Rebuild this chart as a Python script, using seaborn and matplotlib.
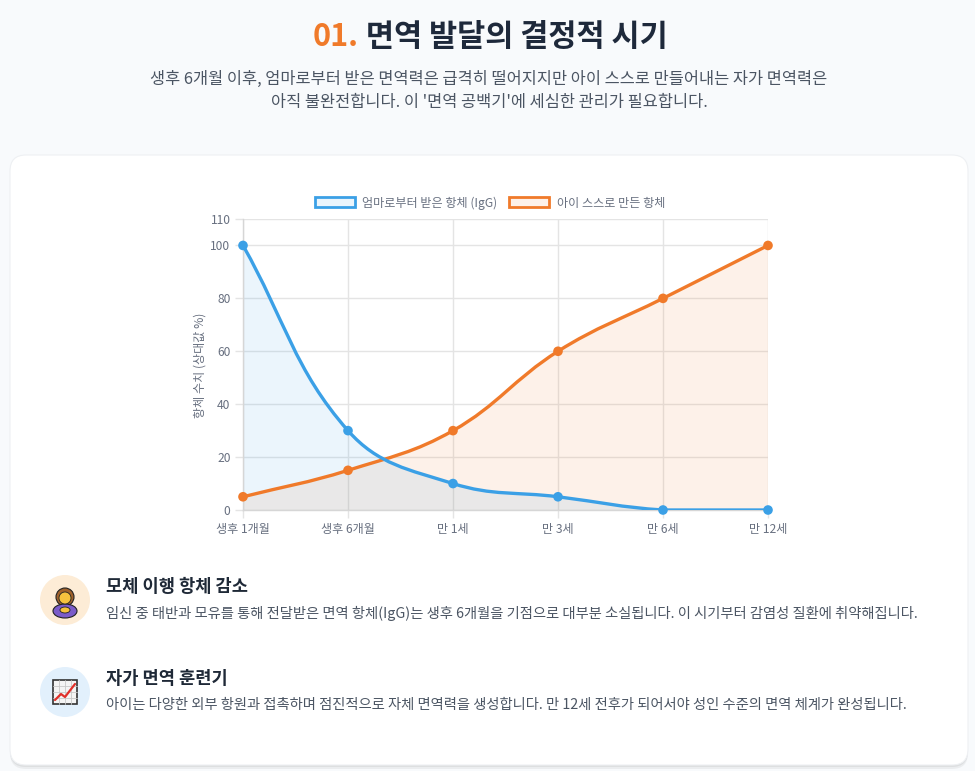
import numpy as np
import pandas as pd
import seaborn as sns
import matplotlib.pyplot as plt
from matplotlib.path import Path
from matplotlib.patches import PathPatch, FancyBboxPatch, Circle, Patch, Rectangle, Ellipse
from matplotlib.transforms import IdentityTransform
from matplotlib.colors import to_rgba

# data
labels = ['생후 1개월', '생후 6개월', '만 1세', '만 3세', '만 6세', '만 12세']
mother = [100, 30, 10, 5, 0, 0]
child = [5, 15, 30, 60, 80, 100]
series_names = ['엄마로부터 받은 항체 (IgG)', '아이 스스로 만든 항체']
y_ticks = [0, 20, 40, 60, 80, 100, 110]

blue = '#3ba0e6'
orange = '#f07a2a'
tick_col = '#687080'
grid_col = '#e4e4e4'

sns.set_theme(style='whitegrid')
plt.rcParams['font.family'] = ['Noto Sans CJK KR', 'DejaVu Sans']

W, H = 975, 771
fig = plt.figure(figsize=(W / 100, H / 100), dpi=100)
fig.patch.set_facecolor('#f8fafc')
px = IdentityTransform()


def fx(x):
    return x / W


def fy(y):
    return 1 - y / H


# card with soft shadow
for off, a in [(4, 0.05), (2, 0.06)]:
    fig.add_artist(FancyBboxPatch((10, H - 765 - off), 958, 610, boxstyle='round,pad=0,rounding_size=16',
                                  transform=px, facecolor='black', alpha=a, edgecolor='none', zorder=0))
fig.add_artist(FancyBboxPatch((10, H - 765), 958, 610, boxstyle='round,pad=0,rounding_size=16',
                              transform=px, facecolor='white', edgecolor='#eef0f3', lw=0.8, zorder=1))

# title
renderer = fig.canvas.get_renderer()
t1 = fig.text(0, fy(37), '01.', color=orange, fontsize=22, weight='bold', va='center', zorder=3)
t2 = fig.text(0, fy(37), ' 면역 발달의 결정적 시기', color='#1e293b', fontsize=22, weight='bold',
              va='center', zorder=3)
w1 = t1.get_window_extent(renderer).width
w2 = t2.get_window_extent(renderer).width
start = 490 - (w1 + w2) / 2
t1.set_x(fx(start))
t2.set_x(fx(start + w1))

fig.text(fx(489), fy(79), '생후 6개월 이후, 엄마로부터 받은 면역력은 급격히 떨어지지만 아이 스스로 만들어내는 자가 면역력은',
         ha='center', va='center', fontsize=11.8, color='#4b5563', zorder=3)
fig.text(fx(489), fy(103), "아직 불완전합니다. 이 '면역 공백기'에 세심한 관리가 필요합니다.",
         ha='center', va='center', fontsize=11.8, color='#4b5563', zorder=3)

# chart
ax = fig.add_axes([fx(243), fy(510), (768 - 243) / W, (510 - 219) / H], zorder=2)
ax.set_facecolor('none')
ax.set_xlim(0, len(labels) - 1)
ax.set_ylim(0, 110)


def smooth_path(ys, tension=0.4):
    # chart.js style bezier control points, computed in pixel space
    xs = np.arange(len(ys))
    pts = ax.transData.transform(np.column_stack([xs, ys]).astype(float))
    n = len(pts)
    bb = ax.bbox
    cps = []
    for i in range(n):
        prev = pts[i - 1] if i > 0 else pts[i]
        nxt = pts[i + 1] if i < n - 1 else pts[i]
        d01 = np.hypot(*(pts[i] - prev))
        d12 = np.hypot(*(nxt - pts[i]))
        tot = d01 + d12
        s01 = d01 / tot if tot else 0
        s12 = d12 / tot if tot else 0
        cp_a = pts[i] - tension * s01 * (nxt - prev)
        cp_b = pts[i] + tension * s12 * (nxt - prev)
        for cp in (cp_a, cp_b):
            cp[0] = min(max(cp[0], bb.x0), bb.x1)
            cp[1] = min(max(cp[1], bb.y0), bb.y1)
        cps.append((cp_a, cp_b))
    verts = [pts[0]]
    codes = [Path.MOVETO]
    for i in range(n - 1):
        verts += [cps[i][1], cps[i + 1][0], pts[i + 1]]
        codes += [Path.CURVE4] * 3
    verts = ax.transData.inverted().transform(np.array(verts))
    return verts, codes


for ys, col, z in [(child, orange, 1), (mother, blue, 2)]:
    verts, codes = smooth_path(ys)
    last = len(ys) - 1
    fill_verts = np.vstack([verts, [[last, 0], [0, 0], [0, 0]]])
    fill_codes = codes + [Path.LINETO, Path.LINETO, Path.CLOSEPOLY]
    ax.add_patch(PathPatch(Path(fill_verts, fill_codes), facecolor=to_rgba(col, 0.1),
                           edgecolor='none', zorder=z))
    ax.add_patch(PathPatch(Path(verts, codes), facecolor='none', edgecolor=col, lw=2.4,
                           zorder=3 + z, capstyle='round', joinstyle='round'))

df = pd.DataFrame({
    'pos': list(range(len(labels))) * 2,
    'value': mother + child,
    'series': [series_names[0]] * len(labels) + [series_names[1]] * len(labels),
})
sns.scatterplot(data=df, x='pos', y='value', hue='series', palette=[blue, orange], s=48,
                edgecolor=None, linewidth=0, legend=False, ax=ax, zorder=6, clip_on=False)

ax.set_xlim(0, len(labels) - 1)
ax.set_ylim(0, 110)
ax.set_xticks(range(len(labels)))
ax.set_xticklabels(labels)
ax.set_yticks(y_ticks)
ax.set_xlabel('')
ax.set_ylabel('')
ax.grid(True, color=grid_col, lw=1)
for s in ['top', 'right']:
    ax.spines[s].set_visible(False)
for s in ['left', 'bottom']:
    ax.spines[s].set_visible(True)
    ax.spines[s].set_color('#d6d6d6')
    ax.spines[s].set_linewidth(1)
ax.tick_params(axis='both', length=6, width=1, color=grid_col, labelcolor=tick_col,
               labelsize=8.7, pad=3, left=True, bottom=True)

fig.text(fx(200), fy(365), '항체 수치 (상대값 %)', rotation=90, ha='center', va='center',
         fontsize=8.7, color=tick_col, zorder=3)

handles = [Patch(facecolor=to_rgba(blue, 0.1), edgecolor=blue, lw=2, label=series_names[0]),
           Patch(facecolor=to_rgba(orange, 0.1), edgecolor=orange, lw=2, label=series_names[1])]
ax.legend(handles=handles, loc='center', bbox_to_anchor=(fx(490), fy(203)), bbox_transform=fig.transFigure,
          ncol=2, frameon=False, fontsize=8.7, handlelength=3.3, handleheight=0.9,
          columnspacing=1.0, handletextpad=0.6, labelcolor=tick_col)

# info items
items = [
    ('모체 이행 항체 감소',
     '임신 중 태반과 모유를 통해 전달받은 면역 항체(IgG)는 생후 6개월을 기점으로 대부분 소실됩니다. 이 시기부터 감염성 질환에 취약해집니다.',
     '#fdecd6', 600),
    ('자가 면역 훈련기',
     '아이는 다양한 외부 항원과 접촉하며 점진적으로 자체 면역력을 생성합니다. 만 12세 전후가 되어서야 성인 수준의 면역 체계가 완성됩니다.',
     '#e2f0fc', 692),
]
for title, desc, circ, cy in items:
    fig.add_artist(Circle((65, H - cy), 25, transform=px, facecolor=circ, edgecolor='none', zorder=3))
    fig.text(fx(106), fy(cy - 13), title, fontsize=12.7, weight='bold', color='#1f2937',
             va='center', zorder=3)
    fig.text(fx(106), fy(cy + 13), desc, fontsize=10.3, color='#4b5563', va='center', zorder=3)

# icon 1: simple person
cx, cy = 65, H - 600
fig.add_artist(Circle((cx, cy + 3), 9, transform=px, facecolor='#a0612b', edgecolor='#222', lw=0.8, zorder=4))
fig.add_artist(Ellipse((cx, cy - 11), 24, 14, transform=px, facecolor='#7b5cc9', edgecolor='#222', lw=0.8, zorder=4))
fig.add_artist(Circle((cx, cy + 2), 6, transform=px, facecolor='#f6c23e', edgecolor='#222', lw=0.6, zorder=5))
fig.add_artist(Ellipse((cx, cy - 10), 10, 6, transform=px, facecolor='#f6c23e', edgecolor='#222', lw=0.6, zorder=5))

# icon 2: small chart
cx, cy = 65, H - 692
fig.add_artist(Rectangle((cx - 12, cy - 12), 24, 24, transform=px, facecolor='#f4f4f4', edgecolor='#333', lw=1.2, zorder=4))
for k in range(1, 4):
    fig.add_artist(plt.Line2D([cx - 12 + 6 * k] * 2, [cy - 12, cy + 12], transform=px, color='#c8c8c8', lw=0.6, zorder=4))
    fig.add_artist(plt.Line2D([cx - 12, cx + 12], [cy - 12 + 6 * k] * 2, transform=px, color='#c8c8c8', lw=0.6, zorder=4))
fig.add_artist(plt.Line2D([cx - 10, cx - 4, cx, cx + 10], [cy - 8, cy - 2, cy - 5, cy + 8], transform=px,
                          color='#e0302a', lw=1.6, zorder=5))

fig.savefig('out.png', dpi=100, facecolor=fig.get_facecolor())
